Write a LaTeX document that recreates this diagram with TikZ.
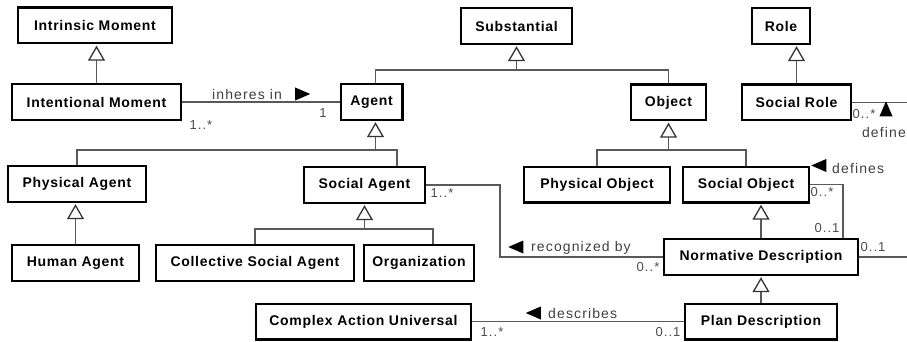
\documentclass[tikz,border=0pt]{standalone}
\usepackage{fontspec}
\setmainfont{Liberation Sans}
\newfontfamily\clsfont[LetterSpace=5]{Liberation Sans}
\newfontfamily\lblfont[LetterSpace=8]{Liberation Sans}
\usetikzlibrary{arrows.meta,shapes.geometric}

\begin{document}
\begin{tikzpicture}[x=1pt,y=-1pt,
  cls/.style={draw,line width=2.4pt,fill=white,inner sep=0pt,
    minimum height=35.6pt,minimum width=#1,
    font=\clsfont\bfseries\fontsize{14}{16}\selectfont},
  conn/.style={draw=black!65,line width=1.3pt},
  gen/.style={conn,shorten >=1.2pt,
    -{Triangle[open,width=17pt,length=15pt,fill=white,color=black!80]}},
  lbl/.style={inner sep=0pt,text=black!75,font=\lblfont\fontsize{14}{16}\selectfont},
  mult/.style={inner sep=0pt,text=black!70,font=\lblfont\fontsize{13}{15}\selectfont},
  tri/.style={isosceles triangle,isosceles triangle stretches,fill=black,
    inner sep=0pt,minimum height=15pt,minimum width=13pt}]
\useasboundingbox (0,0) rectangle (907,342);

% classes
\node[cls=153.6pt] (intrmom) at (95,25.5) {Intrinsic Moment};
\node[cls=168.6pt] (intmom) at (96.5,102) {Intentional Moment};
\node[cls=61.6pt] (agent) at (371.5,102) {Agent};
\node[cls=110.6pt] (substantial) at (516.5,26) {Substantial};
\node[cls=74.6pt] (object) at (668.5,102.5) {Object};
\node[cls=57.6pt] (role) at (781,26) {Role};
\node[cls=108.6pt] (socrole) at (796.5,102.5) {Social Role};
\node[cls=137.6pt] (physagent) at (77,184) {Physical Agent};
\node[cls=120.6pt] (socagent) at (364.5,185) {Social Agent};
\node[cls=126.6pt] (humagent) at (75.5,263) {Human Agent};
\node[cls=197.6pt] (collective) at (255,263) {Collective Social Agent};
\node[cls=109.6pt] (organization) at (419,263) {Organization};
\node[cls=214.6pt] (cau) at (363.5,321.5) {Complex Action Universal};
\node[cls=145.6pt] (physobj) at (597,184.5) {Physical Object};
\node[cls=125.6pt] (socobj) at (746,184.5) {Social Object};
\node[cls=193.6pt] (normdesc) at (761,257) {Normative Description};
\node[cls=151.6pt] (plandesc) at (761,321.5) {Plan Description};

\coordinate (subbus) at (516.5,70);
\coordinate (agbus) at (375.5,150);
\coordinate (obbus) at (668.5,150);
\coordinate (sabus) at (364.5,229);
\coordinate (recx) at (500,0);
\coordinate (offr) at (930,0);

% generalizations
\draw[gen] (intmom.north) -- (intmom.north |- intrmom.south);
\draw[conn] ([xshift=4pt]agent.north) |- (subbus) -| (object.north);
\draw[gen] (subbus) -- (substantial.south);
\draw[gen] (socrole.north) -- (socrole.north |- role.south);
\draw[conn] (physagent.north) |- (agbus) -| ([xshift=32.5pt]socagent.north);
\draw[gen] (agbus) -- ([xshift=4pt]agent.south);
\draw[gen] (humagent.north) -- (humagent.north |- physagent.south);
\draw[conn] (collective.north) |- (sabus) -| ([xshift=14pt]organization.north);
\draw[gen] (sabus) -- (socagent.south);
\draw[conn] (physobj.north) |- (obbus) -| (socobj.north);
\draw[gen] (obbus) -- (object.south);
\draw[gen] (normdesc.north) -- (normdesc.north |- socobj.south);
\draw[gen] (plandesc.north) -- (normdesc.south);

% associations
\draw[conn] (intmom.east) -- (agent.west);
\draw[conn] (socagent.east) -| (recx |- normdesc.west) -- (normdesc.west);
\draw[conn] (socobj.east) -| ([xshift=-16pt]normdesc.north east);
\draw[conn] (socrole.east) -| (offr |- normdesc.east) -- (normdesc.east);
\draw[conn] (cau.east) -- (plandesc.west);

% association names
\node[lbl,anchor=base west] (inhlbl) at (212,100) {inheres in};
\node[tri,shape border rotate=0] (inhtri) at (299.5,94) {};
\node[lbl,anchor=base west] (reclbl) at (531,251) {recognized by};
\node[tri,shape border rotate=180] (rectri) at (519,247) {};
\node[lbl,anchor=base west] (deslbl) at (548,318) {describes};
\node[tri,shape border rotate=180] (destri) at (536.5,313) {};
\node[lbl,anchor=base west] (deflbl) at (832,173) {defines};
\node[tri,shape border rotate=180] (deftri) at (822,165.5) {};
\node[lbl,anchor=base east] (srdlbl) at (906,137) {define};
\node[tri,shape border rotate=90] (srdtri) at (886,112) {};

% multiplicities
\node[mult] (m1) at (201,125) {1..*};
\node[mult] (m2) at (323,113) {1};
\node[mult] (m3) at (442,193) {1..*};
\node[mult] (m4) at (648,267) {0..*};
\node[mult] (m5) at (822,192) {0..*};
\node[mult] (m6) at (827,228) {0..1};
\node[mult] (m7) at (873,247) {0..1};
\node[mult] (m8) at (864,114) {0..*};
\node[mult] (m9) at (492,332) {1..*};
\node[mult] (m10) at (668,332) {0..1};

\end{tikzpicture}
\end{document}
